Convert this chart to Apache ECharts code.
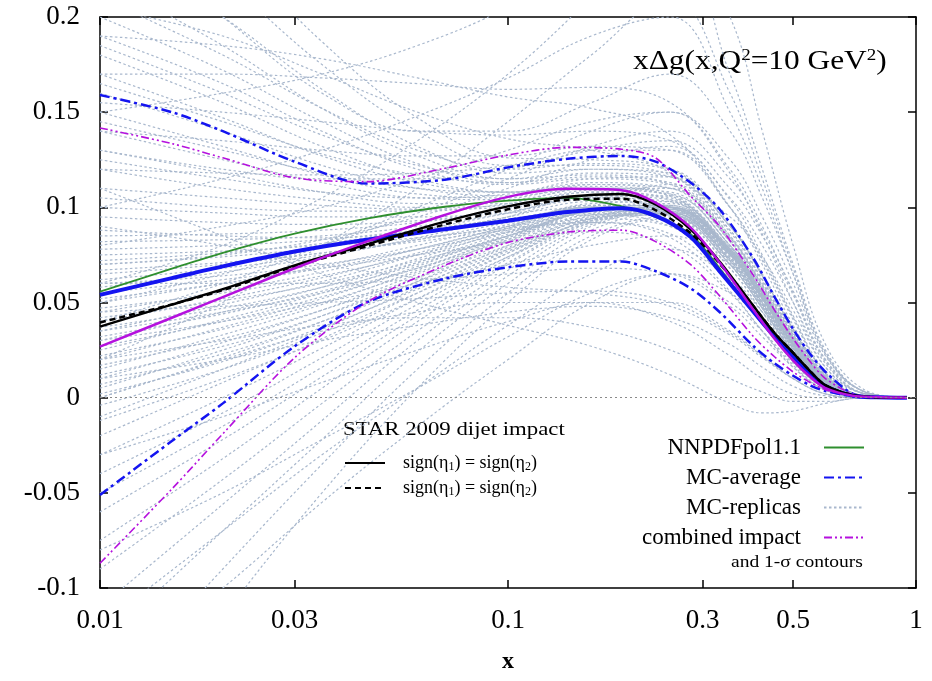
<!DOCTYPE html>
<html>
<head>
<meta charset="utf-8">
<script src="https://cdn.jsdelivr.net/npm/echarts@6/dist/echarts.min.js"></script>
<style>
  html, body { margin: 0; padding: 0; background: #fff; }
  #chart { width: 932px; height: 681px; }
</style>
</head>
<body>
<div id="chart"></div>
<script>
// x grid of the central curves
var xs = [0.01, 0.015, 0.02, 0.03, 0.045, 0.07, 0.1, 0.14, 0.19, 0.23, 0.28, 0.33, 0.4, 0.45, 0.5, 0.55, 0.6, 0.7, 0.8, 0.9, 0.95];

var nnpdf      = [0.0557, 0.0678, 0.0761, 0.0862, 0.0941, 0.1003, 0.1035, 0.105, 0.1005, 0.095, 0.086, 0.068, 0.0445, 0.032, 0.0215, 0.013, 0.0067, 0.0012, 0.0002, 0, 0];
var mcAvg      = [0.054, 0.0628, 0.069, 0.0768, 0.083, 0.0885, 0.093, 0.0975, 0.0995, 0.0955, 0.0845, 0.0665, 0.045, 0.032, 0.0215, 0.0125, 0.006, 0.001, 0.0002, 0, 0];
var mcUp       = [0.159, 0.150, 0.140, 0.124, 0.1125, 0.1145, 0.121, 0.1255, 0.127, 0.124, 0.113, 0.099, 0.073, 0.053, 0.036, 0.023, 0.0135, 0.002, 0.0003, 0, 0];
var mcLow      = [-0.0511, -0.0228, -0.003, 0.027, 0.0500, 0.0625, 0.0685, 0.0715, 0.0715, 0.0665, 0.0575, 0.045, 0.027, 0.018, 0.0115, 0.0065, 0.0035, 0.0008, 0.0001, 0, 0];
var starSame   = [0.0373, 0.0489, 0.057, 0.0695, 0.0805, 0.0925, 0.1005, 0.1055, 0.107, 0.1015, 0.0885, 0.0715, 0.048, 0.034, 0.0235, 0.014, 0.0065, 0.0013, 0.0002, 0, 0];
var starDashed = [0.0395, 0.049, 0.0565, 0.069, 0.0795, 0.091, 0.099, 0.104, 0.1045, 0.0985, 0.0865, 0.0705, 0.048, 0.034, 0.0235, 0.014, 0.0065, 0.0013, 0.0002, 0, 0];
var combined   = [0.0268, 0.042, 0.0528, 0.068, 0.082, 0.096, 0.1055, 0.1097, 0.109, 0.1025, 0.0895, 0.071, 0.046, 0.031, 0.0195, 0.011, 0.005, 0.001, 0.0003, 0.0001, 0];
var combUp     = [0.1417, 0.1335, 0.126, 0.1155, 0.1135, 0.1205, 0.1275, 0.1315, 0.1305, 0.126, 0.106, 0.090, 0.064, 0.046, 0.031, 0.019, 0.010, 0.002, 0.0003, 0, 0];
var combLow    = [-0.087, -0.048, -0.019, 0.021, 0.050, 0.0695, 0.0815, 0.087, 0.088, 0.082, 0.070, 0.0535, 0.032, 0.0215, 0.0135, 0.008, 0.0042, 0.001, 0.0001, 0, 0];

// MC replicas, coarser x grid
var repX = [0.01, 0.02, 0.035, 0.06, 0.1, 0.16, 0.25, 0.35, 0.42, 0.5, 0.6, 0.75, 0.95];
var replicas = [
  [0.095, 0.092, 0.091, 0.093, 0.098, 0.104, 0.098, 0.068, 0.045, 0.022, 0.006, 0.0005, 0],
  [0.085, 0.086, 0.088, 0.092, 0.099, 0.108, 0.104, 0.075, 0.05, 0.026, 0.008, 0.001, 0],
  [0.078, 0.08, 0.083, 0.088, 0.094, 0.099, 0.092, 0.062, 0.04, 0.019, 0.005, 0.0004, 0],
  [0.07, 0.074, 0.079, 0.086, 0.095, 0.103, 0.1, 0.072, 0.048, 0.025, 0.007, 0.001, 0],
  [0.062, 0.068, 0.075, 0.083, 0.092, 0.1, 0.097, 0.07, 0.047, 0.024, 0.007, 0.001, 0],
  [0.058, 0.066, 0.074, 0.084, 0.095, 0.106, 0.106, 0.08, 0.055, 0.03, 0.009, 0.001, 0],
  [0.05, 0.06, 0.069, 0.08, 0.091, 0.1, 0.096, 0.068, 0.045, 0.023, 0.006, 0.0005, 0],
  [0.045, 0.056, 0.066, 0.078, 0.09, 0.101, 0.1, 0.074, 0.05, 0.027, 0.008, 0.001, 0],
  [0.04, 0.052, 0.063, 0.076, 0.089, 0.1, 0.098, 0.071, 0.048, 0.025, 0.007, 0.001, 0],
  [0.035, 0.049, 0.061, 0.075, 0.089, 0.101, 0.101, 0.076, 0.052, 0.028, 0.008, 0.001, 0],
  [0.03, 0.045, 0.058, 0.073, 0.088, 0.1, 0.099, 0.072, 0.049, 0.026, 0.007, 0.001, 0],
  [0.025, 0.041, 0.055, 0.071, 0.087, 0.1, 0.1, 0.074, 0.05, 0.027, 0.008, 0.001, 0],
  [0.02, 0.037, 0.052, 0.069, 0.086, 0.099, 0.099, 0.073, 0.049, 0.026, 0.007, 0.001, 0],
  [0.015, 0.033, 0.049, 0.067, 0.085, 0.099, 0.1, 0.075, 0.051, 0.027, 0.008, 0.001, 0],
  [0.01, 0.029, 0.046, 0.065, 0.084, 0.099, 0.101, 0.077, 0.053, 0.029, 0.009, 0.001, 0],
  [0.005, 0.025, 0.043, 0.063, 0.083, 0.098, 0.1, 0.076, 0.052, 0.028, 0.008, 0.001, 0],
  [0.0, 0.021, 0.04, 0.061, 0.082, 0.098, 0.1, 0.077, 0.053, 0.029, 0.009, 0.001, 0],
  [0.065, 0.07, 0.076, 0.082, 0.088, 0.092, 0.086, 0.06, 0.039, 0.019, 0.005, 0.0004, 0],
  [0.075, 0.077, 0.08, 0.084, 0.089, 0.092, 0.084, 0.056, 0.035, 0.016, 0.004, 0.0003, 0],
  [0.055, 0.062, 0.068, 0.075, 0.082, 0.087, 0.08, 0.055, 0.035, 0.017, 0.004, 0.0003, 0],
  [0.11, 0.105, 0.101, 0.099, 0.1, 0.105, 0.1, 0.07, 0.047, 0.024, 0.007, 0.001, 0],
  [0.12, 0.11, 0.104, 0.1, 0.101, 0.108, 0.105, 0.076, 0.052, 0.028, 0.008, 0.001, 0],
  [0.13, 0.118, 0.108, 0.102, 0.102, 0.109, 0.107, 0.08, 0.055, 0.03, 0.009, 0.001, 0],
  [0.14, 0.125, 0.113, 0.105, 0.104, 0.11, 0.108, 0.08, 0.055, 0.03, 0.009, 0.001, 0],
  [0.15, 0.132, 0.117, 0.107, 0.105, 0.112, 0.11, 0.083, 0.058, 0.032, 0.01, 0.001, 0],
  [0.16, 0.14, 0.122, 0.11, 0.106, 0.11, 0.106, 0.077, 0.053, 0.028, 0.008, 0.001, 0],
  [0.17, 0.147, 0.127, 0.113, 0.108, 0.113, 0.11, 0.082, 0.057, 0.031, 0.01, 0.001, 0],
  [0.18, 0.155, 0.132, 0.115, 0.108, 0.111, 0.106, 0.076, 0.052, 0.027, 0.008, 0.001, 0],
  [0.19, 0.165, 0.14, 0.12, 0.112, 0.115, 0.112, 0.084, 0.059, 0.033, 0.01, 0.001, 0],
  [0.2, 0.172, 0.145, 0.123, 0.113, 0.116, 0.113, 0.085, 0.06, 0.034, 0.011, 0.001, 0],
  [0.22, 0.185, 0.152, 0.127, 0.115, 0.117, 0.112, 0.082, 0.057, 0.031, 0.01, 0.001, 0],
  [0.24, 0.2, 0.162, 0.132, 0.118, 0.12, 0.116, 0.087, 0.061, 0.034, 0.011, 0.001, 0],
  [0.27, 0.22, 0.175, 0.14, 0.122, 0.122, 0.117, 0.088, 0.062, 0.035, 0.011, 0.001, 0],
  [0.3, 0.24, 0.187, 0.147, 0.126, 0.125, 0.12, 0.09, 0.064, 0.036, 0.012, 0.001, 0],
  [0.19, 0.185, 0.178, 0.168, 0.158, 0.152, 0.138, 0.1, 0.07, 0.038, 0.012, 0.001, 0],
  [0.17, 0.17, 0.168, 0.165, 0.162, 0.163, 0.155, 0.118, 0.086, 0.05, 0.016, 0.002, 0],
  [0.205, 0.19, 0.17, 0.15, 0.136, 0.13, 0.118, 0.085, 0.058, 0.031, 0.009, 0.001, 0],
  [0.155, 0.15, 0.145, 0.14, 0.138, 0.14, 0.135, 0.104, 0.075, 0.043, 0.014, 0.002, 0],
  [0.14, 0.135, 0.13, 0.127, 0.127, 0.132, 0.13, 0.1, 0.073, 0.042, 0.013, 0.001, 0],
  [0.12, 0.118, 0.117, 0.118, 0.122, 0.13, 0.13, 0.1, 0.072, 0.041, 0.013, 0.001, 0],
  [-0.01, 0.015, 0.036, 0.058, 0.08, 0.097, 0.1, 0.077, 0.054, 0.03, 0.009, 0.001, 0],
  [-0.02, 0.008, 0.031, 0.055, 0.078, 0.096, 0.1, 0.078, 0.055, 0.031, 0.009, 0.001, 0],
  [-0.03, 0.0, 0.026, 0.052, 0.076, 0.095, 0.099, 0.077, 0.054, 0.03, 0.009, 0.001, 0],
  [-0.04, -0.008, 0.021, 0.049, 0.074, 0.094, 0.099, 0.078, 0.055, 0.031, 0.01, 0.001, 0],
  [-0.05, -0.015, 0.016, 0.046, 0.073, 0.094, 0.1, 0.079, 0.056, 0.032, 0.01, 0.001, 0],
  [-0.06, -0.022, 0.011, 0.043, 0.071, 0.093, 0.099, 0.078, 0.055, 0.031, 0.01, 0.001, 0],
  [-0.075, -0.032, 0.005, 0.04, 0.07, 0.092, 0.099, 0.078, 0.055, 0.031, 0.01, 0.001, 0],
  [-0.09, -0.043, -0.003, 0.035, 0.067, 0.091, 0.098, 0.077, 0.054, 0.03, 0.009, 0.001, 0],
  [-0.11, -0.056, -0.012, 0.03, 0.064, 0.09, 0.098, 0.078, 0.055, 0.031, 0.01, 0.001, 0],
  [-0.13, -0.07, -0.022, 0.024, 0.06, 0.088, 0.097, 0.077, 0.055, 0.031, 0.01, 0.001, 0],
  [-0.16, -0.09, -0.035, 0.015, 0.055, 0.085, 0.095, 0.076, 0.054, 0.03, 0.009, 0.001, 0],
  [-0.2, -0.115, -0.05, 0.005, 0.05, 0.083, 0.094, 0.075, 0.053, 0.03, 0.009, 0.001, 0],
  [-0.08, -0.05, -0.022, 0.005, 0.032, 0.055, 0.065, 0.05, 0.035, 0.018, 0.005, 0.0004, 0],
  [-0.15, -0.1, -0.055, -0.015, 0.02, 0.05, 0.065, 0.055, 0.04, 0.022, 0.006, 0.0005, 0],
  [-0.12, -0.07, -0.03, 0.005, 0.038, 0.065, 0.078, 0.063, 0.045, 0.025, 0.007, 0.0006, 0],
  [0.08, 0.09, 0.1, 0.115, 0.13, 0.145, 0.15, 0.12, 0.09, 0.055, 0.02, 0.003, 0],
  [0.04, 0.06, 0.08, 0.1, 0.12, 0.14, 0.15, 0.125, 0.095, 0.06, 0.022, 0.003, 0],
  [0.1, 0.115, 0.13, 0.148, 0.168, 0.19, 0.2, 0.15, 0.11, 0.065, 0.023, 0.003, 0],
  [0.02, 0.05, 0.08, 0.11, 0.145, 0.18, 0.21, 0.16, 0.115, 0.068, 0.024, 0.003, 0],
  [0.15, 0.16, 0.17, 0.185, 0.205, 0.23, 0.24, 0.17, 0.12, 0.07, 0.025, 0.003, 0],
  [0.06, 0.08, 0.105, 0.135, 0.17, 0.21, 0.25, 0.2, 0.14, 0.08, 0.028, 0.004, 0],
  [0.03, 0.04, 0.05, 0.06, 0.07, 0.08, 0.085, 0.07, 0.052, 0.03, 0.009, 0.001, 0],
  [0.06, 0.06, 0.06, 0.062, 0.065, 0.068, 0.065, 0.048, 0.032, 0.016, 0.004, 0.0003, 0],
  [0.09, 0.08, 0.07, 0.063, 0.058, 0.055, 0.048, 0.033, 0.021, 0.01, 0.002, 0, 0],
  [0.02, 0.03, 0.038, 0.042, 0.042, 0.037, 0.025, 0.01, 0.003, -0.002, -0.002, 0, 0],
  [0.11, 0.085, 0.065, 0.05, 0.038, 0.027, 0.012, -0.003, -0.008, -0.007, -0.003, 0, 0],
  [0.0, 0.02, 0.035, 0.045, 0.05, 0.05, 0.04, 0.022, 0.01, 0.002, 0, 0, 0],
  [0.13, 0.12, 0.115, 0.115, 0.12, 0.13, 0.135, 0.11, 0.085, 0.054, 0.019, 0.002, 0],
  [0.05, 0.065, 0.08, 0.097, 0.115, 0.132, 0.14, 0.115, 0.088, 0.056, 0.02, 0.002, 0],
  [0.25, 0.2, 0.16, 0.14, 0.14, 0.155, 0.17, 0.14, 0.105, 0.065, 0.023, 0.003, 0],
  [0.088, 0.085, 0.084, 0.087, 0.093, 0.1, 0.097, 0.07, 0.047, 0.024, 0.007, 0.001, 0],
  [0.082, 0.083, 0.085, 0.09, 0.097, 0.105, 0.103, 0.076, 0.052, 0.028, 0.008, 0.001, 0],
  [0.072, 0.076, 0.081, 0.088, 0.097, 0.106, 0.104, 0.077, 0.053, 0.028, 0.008, 0.001, 0],
  [0.067, 0.071, 0.076, 0.083, 0.09, 0.096, 0.09, 0.062, 0.04, 0.02, 0.005, 0.0004, 0],
  [0.06, 0.064, 0.07, 0.078, 0.087, 0.094, 0.09, 0.064, 0.042, 0.021, 0.006, 0.0005, 0],
  [0.052, 0.06, 0.068, 0.078, 0.09, 0.102, 0.103, 0.078, 0.054, 0.03, 0.009, 0.001, 0],
  [0.047, 0.055, 0.064, 0.075, 0.087, 0.098, 0.096, 0.07, 0.047, 0.024, 0.007, 0.001, 0],
  [0.042, 0.051, 0.06, 0.072, 0.085, 0.097, 0.097, 0.072, 0.049, 0.026, 0.008, 0.001, 0],
  [0.037, 0.047, 0.058, 0.071, 0.085, 0.098, 0.1, 0.076, 0.053, 0.029, 0.009, 0.001, 0],
  [0.032, 0.044, 0.056, 0.07, 0.085, 0.099, 0.102, 0.079, 0.055, 0.031, 0.01, 0.001, 0],
  [0.027, 0.04, 0.053, 0.068, 0.084, 0.098, 0.1, 0.076, 0.052, 0.028, 0.008, 0.001, 0],
  [0.022, 0.036, 0.05, 0.066, 0.082, 0.096, 0.097, 0.073, 0.05, 0.027, 0.008, 0.001, 0],
  [0.017, 0.031, 0.046, 0.063, 0.08, 0.095, 0.096, 0.072, 0.049, 0.026, 0.007, 0.001, 0],
  [0.012, 0.027, 0.043, 0.061, 0.079, 0.094, 0.096, 0.073, 0.05, 0.027, 0.008, 0.001, 0],
  [0.007, 0.023, 0.04, 0.059, 0.078, 0.094, 0.097, 0.075, 0.052, 0.028, 0.008, 0.001, 0],
  [0.002, 0.019, 0.037, 0.057, 0.077, 0.093, 0.097, 0.075, 0.052, 0.029, 0.009, 0.001, 0],
  [-0.004, 0.015, 0.034, 0.055, 0.076, 0.093, 0.097, 0.076, 0.053, 0.029, 0.009, 0.001, 0],
  [-0.012, 0.01, 0.03, 0.052, 0.074, 0.092, 0.097, 0.076, 0.053, 0.03, 0.009, 0.001, 0],
  [0.1, 0.097, 0.095, 0.095, 0.097, 0.1, 0.093, 0.064, 0.042, 0.021, 0.006, 0.0005, 0],
  [0.105, 0.1, 0.098, 0.098, 0.102, 0.11, 0.11, 0.084, 0.059, 0.033, 0.01, 0.001, 0],
  [0.125, 0.115, 0.108, 0.105, 0.107, 0.115, 0.116, 0.09, 0.064, 0.036, 0.011, 0.001, 0],
  [0.145, 0.13, 0.118, 0.11, 0.108, 0.112, 0.107, 0.078, 0.053, 0.028, 0.008, 0.001, 0],
  [0.165, 0.145, 0.128, 0.117, 0.113, 0.118, 0.116, 0.088, 0.062, 0.035, 0.011, 0.001, 0],
  [0.185, 0.16, 0.138, 0.122, 0.115, 0.12, 0.118, 0.09, 0.064, 0.036, 0.011, 0.001, 0],
  [0.21, 0.18, 0.152, 0.13, 0.12, 0.123, 0.12, 0.091, 0.065, 0.037, 0.012, 0.001, 0],
  [0.035, 0.045, 0.055, 0.068, 0.083, 0.1, 0.112, 0.095, 0.074, 0.046, 0.016, 0.002, 0],
  [0.07, 0.075, 0.083, 0.095, 0.11, 0.125, 0.132, 0.105, 0.08, 0.05, 0.018, 0.002, 0],
  [0.01, 0.02, 0.03, 0.038, 0.045, 0.048, 0.042, 0.028, 0.016, 0.006, 0.001, 0, 0],
  [0.045, 0.048, 0.05, 0.052, 0.055, 0.056, 0.05, 0.034, 0.022, 0.01, 0.002, 0, 0],
  [-0.03, -0.01, 0.008, 0.025, 0.04, 0.05, 0.05, 0.035, 0.022, 0.01, 0.002, 0, 0]
];

var xTicks = [0.01, 0.03, 0.1, 0.3, 0.5, 1];

var serif = '"Liberation Serif", "DejaVu Serif", serif';
var green = '#2f8f2f';
var blue = '#1414f0';
var magenta = '#b511de';
var repColor = '#a9b8cd';

function pairs(x, y) {
  return x.map(function(v, i) { return [v, y[i]]; });
}

function line(name, x, y, color, width, type, smooth) {
  return {
    name: name,
    type: 'line',
    data: pairs(x, y),
    symbol: 'none',
    smooth: smooth == null ? 0.3 : smooth,
    lineStyle: { color: color, width: width, type: type },
    itemStyle: { color: color },
    emphasis: { disabled: true },
    silent: true
  };
}

var series = [];
replicas.forEach(function(r, i) {
  var s = line('MC-replicas', repX, r, repColor, 1.2, [2.5, 2.5], 0.4);
  if (i === 0) {
    s.markLine = {
      silent: true,
      symbol: 'none',
      label: { show: false },
      lineStyle: { color: '#8a8a8a', type: [2, 3], width: 1 },
      data: [{ yAxis: 0 }]
    };
  }
  series.push(s);
});

var dashDot = [10, 4, 3, 4];
var dashDotDot = [8, 3, 2, 3, 2, 3];
series.push(line('MC-average', xs, mcUp, blue, 2.5, dashDot));
series.push(line('MC-average', xs, mcLow, blue, 2.5, dashDot));
series.push(line('combined impact', xs, combUp, magenta, 1.6, dashDotDot));
series.push(line('combined impact', xs, combLow, magenta, 1.6, dashDotDot));
series.push(line('NNPDFpol1.1', xs, nnpdf, green, 1.8, 'solid'));
series.push(line('MC-average', xs, mcAvg, blue, 4, 'solid'));
series.push(line('sign(η1) = sign(η2) ', xs, starDashed, '#000', 2.5, [6, 4]));
series.push(line('sign(η1) = sign(η2)', xs, starSame, '#000', 2.5, 'solid'));
series.push(line('combined impact', xs, combined, magenta, 2.5, 'solid'));

var hiddenSymbol = { color: 'rgba(0,0,0,0)', borderWidth: 0, opacity: 0 };

var chart = echarts.init(document.getElementById('chart'), null, { renderer: 'canvas' });
chart.setOption({
  animation: false,
  backgroundColor: '#fff',
  grid: { left: 100, right: 16, top: 17, bottom: 93 },
  xAxis: [
    {
      type: 'log', logBase: 10, min: 0.01, max: 1,
      name: 'x', nameLocation: 'middle', nameGap: 62,
      nameTextStyle: { fontFamily: serif, fontSize: 24, fontWeight: 'bold', color: '#000' },
      axisLine: { onZero: false, lineStyle: { color: '#000', width: 1.5 } },
      axisTick: { inside: true, length: 8, customValues: xTicks, lineStyle: { color: '#000', width: 1.5 } },
      axisLabel: { customValues: xTicks, fontFamily: serif, fontSize: 27, color: '#000', margin: 19,
        formatter: function(v) { return String(+(+v).toFixed(2)); } },
      splitLine: { show: false }, minorTick: { show: false }
    },
    {
      type: 'log', logBase: 10, min: 0.01, max: 1, position: 'top',
      axisLine: { onZero: false, lineStyle: { color: '#000', width: 1.5 } },
      axisTick: { inside: true, length: 8, customValues: xTicks, lineStyle: { color: '#000', width: 1.5 } },
      axisLabel: { show: false },
      splitLine: { show: false }
    }
  ],
  yAxis: [
    {
      type: 'value', min: -0.1, max: 0.2, interval: 0.05,
      axisLine: { show: true, onZero: false, lineStyle: { color: '#000', width: 1.5 } },
      axisTick: { show: true, inside: true, length: 8, lineStyle: { color: '#000', width: 1.5 } },
      axisLabel: { fontFamily: serif, fontSize: 27, color: '#000', margin: 20,
        formatter: function(v) { return String(+v.toFixed(2)); } },
      splitLine: { show: false }
    },
    {
      type: 'value', min: -0.1, max: 0.2, interval: 0.05, position: 'right',
      axisLine: { show: true, onZero: false, lineStyle: { color: '#000', width: 1.5 } },
      axisTick: { show: true, inside: true, length: 8, lineStyle: { color: '#000', width: 1.5 } },
      axisLabel: { show: false },
      splitLine: { show: false }
    }
  ],
  legend: [
    {
      data: ['NNPDFpol1.1', 'MC-average', 'MC-replicas', 'combined impact'],
      orient: 'vertical', align: 'right',
      right: 62, top: 431,
      itemWidth: 40, itemHeight: 14, itemGap: 7,
      selectedMode: false,
      itemStyle: hiddenSymbol,
      textStyle: { fontFamily: serif, fontSize: 23, color: '#000', padding: [0, 18, 0, 0] }
    },
    {
      data: ['sign(η1) = sign(η2)', 'sign(η1) = sign(η2) '],
      orient: 'vertical', align: 'left',
      left: 339, top: 449,
      itemWidth: 40, itemHeight: 12, itemGap: 6,
      selectedMode: false,
      itemStyle: hiddenSymbol,
      formatter: function() { return 'sign(η{sub|1}) = sign(η{sub|2})'; },
      textStyle: { fontFamily: serif, fontSize: 18, color: '#000', padding: [0, 0, 0, 13],
        rich: { sub: { fontFamily: serif, fontSize: 12, color: '#000', padding: [8, 0, 0, 0] } } }
    }
  ],
  graphic: [
    {
      type: 'text', x: 633, y: 47, scaleX: 1.12,
      style: {
        text: 'xΔg(x,Q{sup|2}=10 GeV{sup|2})',
        fontFamily: serif, fontSize: 28, fill: '#000',
        rich: { sup: { fontFamily: serif, fontSize: 17, fill: '#000', padding: [0, 0, 13, 0] } }
      }
    },
    {
      type: 'text', x: 343, y: 421, scaleX: 1.2,
      style: { text: 'STAR 2009 dijet impact', fontFamily: serif, fontSize: 19, fill: '#000' }
    },
    {
      type: 'text', x: 731, y: 555, scaleX: 1.22,
      style: { text: 'and 1-σ contours', fontFamily: serif, fontSize: 16, fill: '#000' }
    }
  ],
  series: series
});
</script>
</body>
</html>
